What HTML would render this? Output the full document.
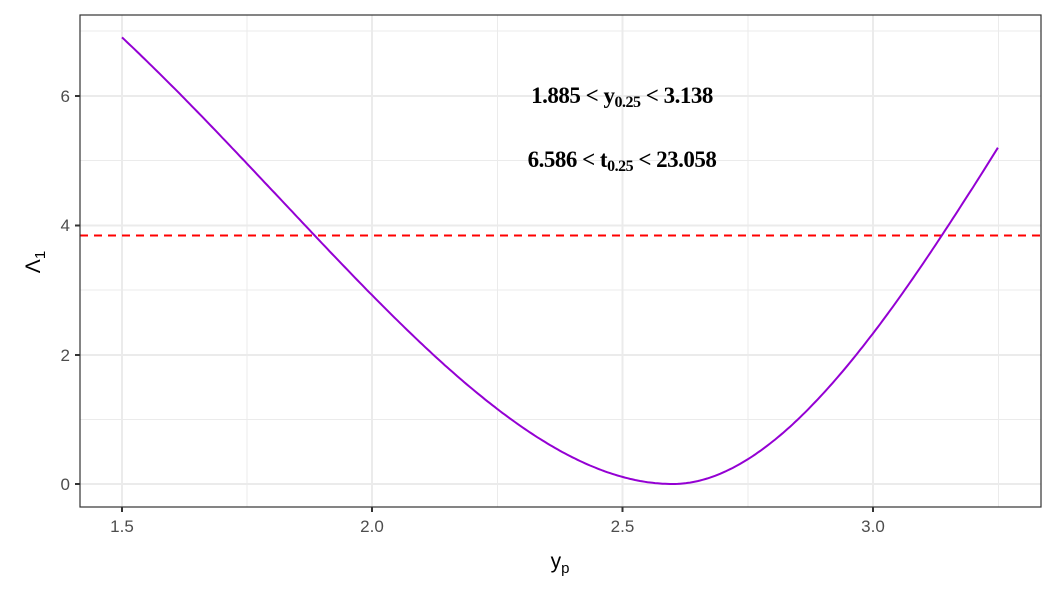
<!DOCTYPE html>
<html><head><style>body{margin:0;background:#fff}svg{display:block}</style></head><body>
<svg width="1056" height="595" xmlns="http://www.w3.org/2000/svg" font-family="Liberation Sans, sans-serif">
<g stroke="#ebebeb" stroke-width="1">
<line x1="80" x2="1041" y1="419.5" y2="419.5"/><line x1="80" x2="1041" y1="290" y2="290"/><line x1="80" x2="1041" y1="160.5" y2="160.5"/><line x1="80" x2="1041" y1="31" y2="31"/>
<line x1="247" x2="247" y1="15" y2="507"/><line x1="497.5" x2="497.5" y1="15" y2="507"/><line x1="748" x2="748" y1="15" y2="507"/><line x1="998.5" x2="998.5" y1="15" y2="507"/>
</g>
<g stroke="#ebebeb" stroke-width="2">
<line x1="80" x2="1041" y1="484" y2="484"/><line x1="80" x2="1041" y1="355" y2="355"/><line x1="80" x2="1041" y1="225.5" y2="225.5"/><line x1="80" x2="1041" y1="96" y2="96"/>
<line x1="122" x2="122" y1="15" y2="507"/><line x1="372" x2="372" y1="15" y2="507"/><line x1="622.5" x2="622.5" y1="15" y2="507"/><line x1="873" x2="873" y1="15" y2="507"/>
</g>
<line x1="80" x2="1041" y1="235.5" y2="235.5" stroke="#ff0000" stroke-width="2" stroke-dasharray="8,6"/>
<polyline id="c" fill="none" stroke="#9400d3" stroke-width="2"/>
<rect x="80" y="15" width="961" height="492" fill="none" stroke="#333" stroke-width="1.2"/>
<g stroke="#333" stroke-width="2">
<line x1="75" x2="80" y1="484" y2="484"/><line x1="75" x2="80" y1="355" y2="355"/><line x1="75" x2="80" y1="225.5" y2="225.5"/><line x1="75" x2="80" y1="96" y2="96"/>
<line x1="122" x2="122" y1="507" y2="512"/><line x1="372" x2="372" y1="507" y2="512"/><line x1="622.5" x2="622.5" y1="507" y2="512"/><line x1="873" x2="873" y1="507" y2="512"/>
</g>
<g fill="#4d4d4d" font-size="17" text-anchor="end">
<text x="70" y="490">0</text><text x="70" y="361">2</text><text x="70" y="231">4</text><text x="70" y="102">6</text>
</g>
<g fill="#4d4d4d" font-size="17" text-anchor="middle">
<text x="122" y="532">1.5</text><text x="372" y="532">2.0</text><text x="622.5" y="532">2.5</text><text x="873" y="532">3.0</text>
</g>
<text x="560" y="568" font-size="21" text-anchor="middle">y<tspan font-size="15" dy="5">p</tspan></text>
<text transform="translate(40,262) rotate(-90)" font-size="21" text-anchor="middle">Λ<tspan font-size="15" dy="5">1</tspan></text>
<g font-family="Liberation Serif, serif" font-size="23" font-weight="bold" text-anchor="middle" letter-spacing="-0.5">
<text x="622" y="103">1.885 &lt; y<tspan font-size="16" dy="4">0.25</tspan><tspan dy="-4"> &lt; 3.138</tspan></text>
<text x="622" y="167">6.586 &lt; t<tspan font-size="16" dy="4">0.25</tspan><tspan dy="-4"> &lt; 23.058</tspan></text>
</g>
<script>
var p=[];for(var i=0;i<=350;i++){var y=1.5+1.75*i/350,d=y-2.6,h;
if(d<0)h=3.395*d+0.915*d*d;else h=4.294*d-1.21*d*d;var f=h*h;
p.push((122+(y-1.5)*500.5).toFixed(1)+","+(484-f*64.7).toFixed(1));}
document.getElementById("c").setAttribute("points",p.join(" "));
</script>
</svg>
</body></html>
